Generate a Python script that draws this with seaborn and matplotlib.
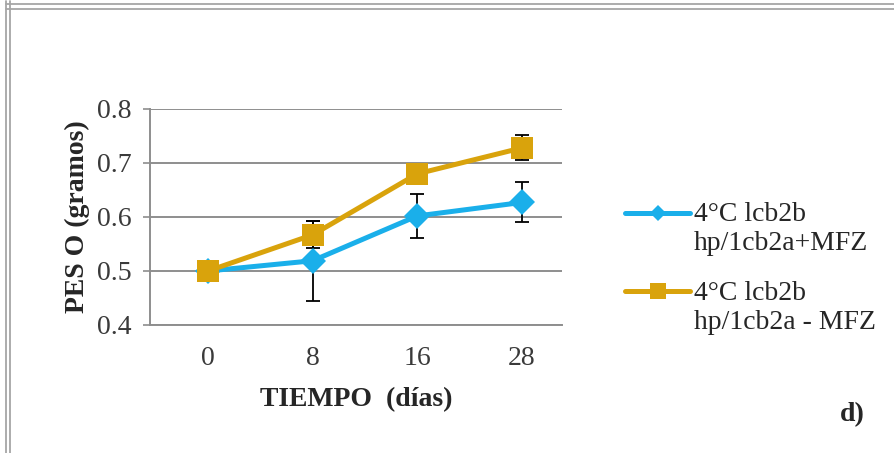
import numpy as np
import pandas as pd
import matplotlib
matplotlib.use("Agg")
import matplotlib.pyplot as plt
import seaborn as sns
from matplotlib.lines import Line2D
from matplotlib.legend_handler import HandlerLine2D

# ---- data ----
days = ["0", "8", "16", "28"]
mfz_plus_mean = [0.500, 0.519, 0.602, 0.627]
mfz_plus_err = [0.000, 0.074, 0.041, 0.037]
mfz_minus_mean = [0.500, 0.567, 0.680, 0.728]
mfz_minus_err = [0.000, 0.025, 0.012, 0.023]
series_names = ["4°C lcb2b\nhp/1cb2a+MFZ", "4°C lcb2b\nhp/1cb2a - MFZ"]
y_ticks = [0.4, 0.5, 0.6, 0.7, 0.8]

BLUE = "#1AAFEA"
GOLD = "#D9A30C"

sns.set_theme(style="white")
plt.rcParams["font.family"] = ["Liberation Serif", "DejaVu Serif"]

idx = np.arange(len(days))
df = pd.DataFrame({
    "x": np.concatenate([idx, idx]),
    "y": mfz_plus_mean + mfz_minus_mean,
    "serie": [series_names[0]] * len(days) + [series_names[1]] * len(days),
})

fig = plt.figure(figsize=(8.94, 4.53), dpi=100)
ax = fig.add_axes([150 / 894, 1 - 325 / 453, 412 / 894, 216 / 453])

sns.lineplot(data=df, x="x", y="y", hue="serie", style="serie",
             palette=[BLUE, GOLD], markers=["D", "s"], dashes=False,
             linewidth=3.6, markeredgewidth=0, legend=False, ax=ax, zorder=2)
data_lines = list(ax.get_lines())
data_lines[0].set_markersize(13.5)
data_lines[1].set_markersize(16)
data_lines[1].set_zorder(3)

# error bars (under markers)
ax.errorbar(idx, mfz_plus_mean, yerr=mfz_plus_err, fmt="none", ecolor="black",
            elinewidth=1.3, capsize=5, capthick=1.3, zorder=1.5)
ax.errorbar(idx, mfz_minus_mean, yerr=mfz_minus_err, fmt="none", ecolor="black",
            elinewidth=1.3, capsize=5, capthick=1.3, zorder=1.5)

ax.set_xlim(-0.554, 3.382)
ax.set_ylim(0.4, 0.8)
ax.set_xticks(idx)
ax.set_xticklabels(days)
ax.set_yticks(y_ticks)
ax.set_yticklabels([f"{v:.1f}" for v in y_ticks])
ax.yaxis.grid(True, color="#8E8E8E", linewidth=1.4)
ax.xaxis.grid(False)
for s in ["top", "right"]:
    ax.spines[s].set_visible(False)
ax.spines["left"].set_color("#8E8E8E")
ax.spines["left"].set_linewidth(1.4)
ax.spines["bottom"].set_color("#8E8E8E")
ax.spines["bottom"].set_linewidth(1.4)
ax.tick_params(axis="y", length=5, width=1.2, color="#8E8E8E", pad=8,
               labelsize=20, labelcolor="#3A3A3A", left=True)
ax.tick_params(axis="x", length=0, pad=15, labelsize=20, labelcolor="#3A3A3A")

ax.set_xlabel("TIEMPO  (días)", fontsize=20, fontweight="bold", labelpad=12)
ax.set_ylabel("PES O (gramos)", fontsize=20, fontweight="bold", labelpad=5)


class TopHandler(HandlerLine2D):
    def create_artists(self, legend, orig_handle, xdescent, ydescent, width,
                       height, fontsize, trans):
        arts = super().create_artists(legend, orig_handle, xdescent, ydescent,
                                      width, height, fontsize, trans)
        for a in arts:
            a.set_ydata(np.asarray(a.get_ydata()) + 0.58 * fontsize)
        return arts


h1 = Line2D([], [], color=BLUE, marker="D", markersize=8, linewidth=3.6,
            markeredgewidth=0)
h2 = Line2D([], [], color=GOLD, marker="s", markersize=12, linewidth=3.6,
            markeredgewidth=0)
fig.legend([h1, h2], series_names, loc="upper left",
           bbox_to_anchor=(625 / 894, 1 - 202 / 453), frameon=False,
           fontsize=20, handlelength=2.35, handletextpad=0.12,
           labelspacing=0.9, borderpad=0, borderaxespad=0,
           handler_map={Line2D: TopHandler()})

fig.text(865 / 894, 1 - 415 / 453, "d)", fontsize=20, fontweight="bold",
         ha="right", va="center")

# outer frame lines
for yy in [4, 9]:
    fig.add_artist(Line2D([6 / 894, 1], [1 - yy / 453, 1 - yy / 453],
                          transform=fig.transFigure, color="#A6A6A6", lw=1.3))
for xx in [6, 10]:
    fig.add_artist(Line2D([xx / 894, xx / 894], [0, 1 - 1 / 453],
                          transform=fig.transFigure, color="#A6A6A6", lw=1.3))

fig.savefig("out.png", dpi=100)
